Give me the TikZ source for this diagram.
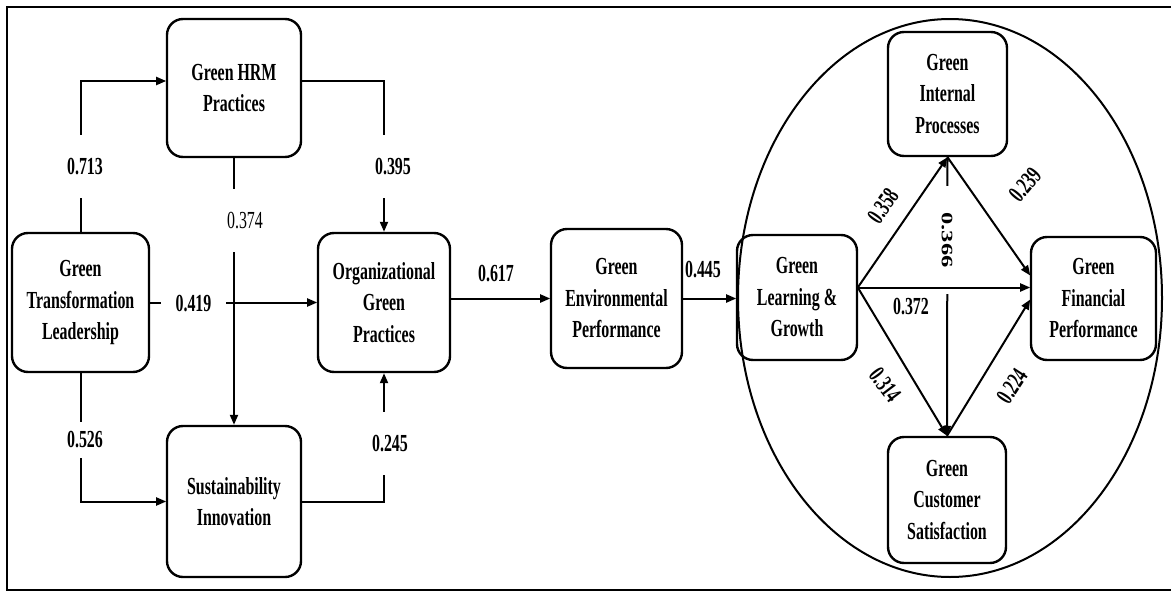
\documentclass[tikz,border=0pt]{standalone}
\usepackage{fontspec}
\setmainfont{Liberation Serif}
\usetikzlibrary{arrows.meta}
\begin{document}
\begin{tikzpicture}[x=1pt, y=-1pt,
  every node/.style={font=\fontsize{24.5}{31.5}\selectfont\bfseries},
  narrow/.style={xscale=0.65},
  box/.style={narrow, draw, line width=2.4pt, rounded corners=16pt, align=center, inner sep=0pt},
  conn/.style={line width=2pt, -{Triangle[length=10pt,width=8pt]}},
  lab/.style={narrow, inner sep=1pt},
  gap/.style={lab, fill=white},
  tilt/.style={rotate=#1, xscale=0.65, inner sep=1pt},
]
\useasboundingbox (0,0) rectangle (1171,592);

% outer frame and the balanced-scorecard ellipse
\draw[line width=2pt] (1171,7) -- (7,7) -- (7,590) -- (1171,590);
\draw[line width=2pt] (950,298) ellipse [x radius=212pt, y radius=279pt];

% constructs
\node[box, minimum width=210.8pt, minimum height=139pt] (tl)  at (80.5,302.5) {Green\\Transformation\\Leadership};
\node[box, minimum width=206.2pt, minimum height=138pt] (hrm) at (234,88)     {Green HRM\\Practices};
\node[box, minimum width=203.1pt, minimum height=139pt] (ogp) at (384,302.5)  {Organizational\\Green\\Practices};
\node[box, minimum width=206.2pt, minimum height=151pt] (si)  at (234,501.5)  {Sustainability\\Innovation};
\node[box, minimum width=201.5pt, minimum height=139pt] (gep) at (616.5,298.5){Green\\Environmental\\Performance};
\node[box, minimum width=184.6pt, minimum height=125pt] (glg) at (797,297.5)  {Green\\Learning \&\\Growth};
\node[box, minimum width=183.1pt, minimum height=124pt] (gip) at (947.5,94)   {Green\\Internal\\Processes};
\node[box, minimum width=192.3pt, minimum height=123pt] (gfp) at (1093.5,298.5){Green\\Financial\\Performance};
\node[box, minimum width=181.5pt, minimum height=126pt] (gcs) at (947,500)    {Green\\Customer\\Satisfaction};

% left-hand paths
\coordinate (hrmIn)  at ([yshift=7pt]hrm.west);
\coordinate (hrmOut) at ([yshift=7pt]hrm.east);
\draw[conn] (tl.north) |- (hrmIn);
\draw[conn] (hrmOut) -| (ogp.north);
\draw[conn] (hrm.south) -- (si.north);
\draw[conn] (tl.east) -- (ogp.west);
\draw[conn] (tl.south) |- (si.west);
\draw[conn] (si.east) -| (ogp.south);
\draw[conn] (ogp.east |- gep.west) -- (gep.west);
\draw[conn] (gep.east) -- (gep.east -| glg.west);

\node[gap, inner ysep=23.5pt] at (85,166.5)  {0.713};
\node[gap, inner ysep=23.5pt] at (393,166.5) {0.395};
\node[gap, inner ysep=23.5pt] at (245,220.5) {\mdseries 0.374};
\node[gap, inner xsep=22pt]   at (193.5,304) {0.419};
\node[gap, inner ysep=9.5pt]  at (85,440)    {0.526};
\node[gap, inner ysep=23.5pt] at (390,443.5) {0.245};
\node[lab] at (496,274) {0.617};
\node[lab] at (703,270) {0.445};

% scorecard paths
\coordinate (hub) at ([yshift=10pt]glg.east);
\draw[conn] (hub) -- (gip.south);
\draw[conn] (hub) -- (gcs.north);
\draw[conn] (gip.south) -- (gcs.north);
\node[gap, rotate=-90, inner xsep=26pt] at (947,240) {0.366};
\draw[conn] (hub) -- (hub -| gfp.west);
\draw[conn] (gip.south) -- ([yshift=23pt]gfp.west);
\draw[conn] (gcs.north) -- ([yshift=-1pt]gfp.west);

\node[tilt=55]  at (883,206)  {0.358};
\node[tilt=50]  at (1025,185) {0.239};
\node[lab]      at (911,307)  {0.372};
\node[tilt=-53] at (885,385)  {0.314};
\node[tilt=57]  at (1012,386) {0.224};
\end{tikzpicture}
\end{document}
